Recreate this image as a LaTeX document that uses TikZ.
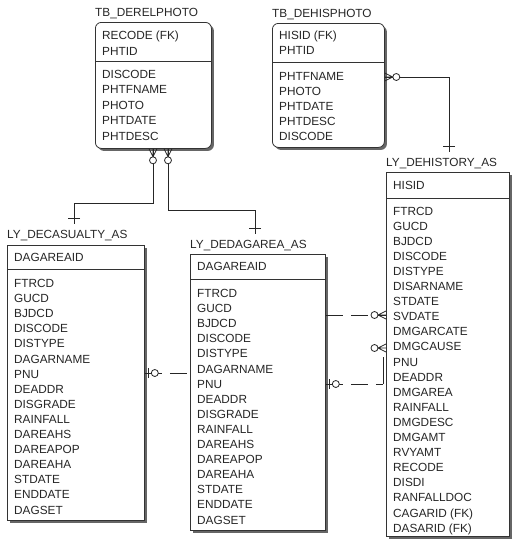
\documentclass[tikz,border=0pt]{standalone}
\usepackage{fontspec}
\setmainfont{Liberation Sans}
\usetikzlibrary{positioning,shadows}

\tikzset{
	entity/.style={draw=black!80, line width=0.8pt, fill=white, anchor=north west, inner sep=0pt,
		drop shadow={shadow xshift=2.5pt, shadow yshift=-2.5pt, fill=black!60, opacity=1}},
	dep/.style={entity, rounded corners=6pt},
	ttl/.style={font=\fontsize{11.8}{14}\selectfont, text=black!85, inner xsep=0pt, inner ysep=6pt},
	fld/.style={font=\fontsize{11.8}{14}\selectfont, text=black!85, anchor=base west, inner sep=0pt},
	divl/.style={draw=black!80, line width=0.8pt},
	rel/.style={draw=black!85, line width=0.8pt},
	reldash/.style={rel, dash pattern=on 17pt off 8pt},
	zmany/.pic={\draw[rel] (0,-4) -- (8,0) -- (0,4) (0,0) -- (8,0);
		\draw[rel, fill=white] (11.5,0) circle (3.5pt);},
	zone/.pic={\draw[rel] (4,-5) -- (4,5);
		\draw[rel, fill=white] (10,0) circle (3.5pt);},
	onebar/.pic={\draw[rel] (-5,-6) -- (-5,6);}
}

\begin{document}
\begin{tikzpicture}[x=1pt, y=-1pt]
	\useasboundingbox (0,0) rectangle (512,544);

	% tables
	\node[dep, minimum width=116pt, minimum height=126pt] (derel) at (95,22) {};
	\node[dep, minimum width=112pt, minimum height=124pt] (dehis) at (272,23) {};
	\node[entity, minimum width=123pt, minimum height=364pt] (his) at (386,172) {};
	\node[entity, minimum width=137pt, minimum height=275pt] (cas) at (7,245) {};
	\node[entity, minimum width=135pt, minimum height=276pt] (dag) at (190,254) {};

	\node[ttl, above right=6pt and 0pt of derel.north west, anchor=base west] (derelT) {TB\_DERELPHOTO};
	\node[ttl, above right=6pt and 0pt of dehis.north west, anchor=base west] (dehisT) {TB\_DEHISPHOTO};
	\node[ttl, above right=6pt and 0pt of his.north west, anchor=base west] (hisT) {LY\_DEHISTORY\_AS};
	\node[ttl, above right=7pt and 0pt of cas.north west, anchor=base west] (casT) {LY\_DECASUALTY\_AS};
	\node[ttl, above right=6pt and 0pt of dag.north west, anchor=base west] (dagT) {LY\_DEDAGAREA\_AS};

	\draw[divl] ([yshift=-39pt]derel.north west) -- ([yshift=-39pt]derel.north east);
	\draw[divl] ([yshift=-39pt]dehis.north west) -- ([yshift=-39pt]dehis.north east);
	\draw[divl] ([yshift=-26pt]his.north west) -- ([yshift=-26pt]his.north east);
	\draw[divl] ([yshift=-24pt]cas.north west) -- ([yshift=-24pt]cas.north east);
	\draw[divl] ([yshift=-25pt]dag.north west) -- ([yshift=-25pt]dag.north east);

	% keys
	\foreach \k [count=\i from 0] in {{RECODE (FK)},PHTID}
		\node[fld] (derelK\i) at (102,{39+16*\i}) {\k};
	\foreach \k [count=\i from 0] in {{HISID (FK)},PHTID}
		\node[fld] (dehisK\i) at (279,{39+15.5*\i}) {\k};
	\node[fld] (hisK) at (393,189) {HISID};
	\node[fld] (casK) at (14,261) {DAGAREAID};
	\node[fld] (dagK) at (197,270) {DAGAREAID};

	% attributes
	\foreach \a [count=\i from 0] in {DISCODE,PHTFNAME,PHOTO,PHTDATE,PHTDESC}
		\node[fld] (derelA\i) at (102,{78+15.5*\i}) {\a};
	\foreach \a [count=\i from 0] in {PHTFNAME,PHOTO,PHTDATE,PHTDESC,DISCODE}
		\node[fld] (dehisA\i) at (279,{80+15*\i}) {\a};
	\foreach \a [count=\i from 0] in {FTRCD,GUCD,BJDCD,DISCODE,DISTYPE,DISARNAME,STDATE,SVDATE,
			DMGARCATE,DMGCAUSE,PNU,DEADDR,DMGAREA,RAINFALL,DMGDESC,DMGAMT,RVYAMT,RECODE,
			DISDI,RANFALLDOC,{CAGARID (FK)},{DASARID (FK)}}
		\node[fld] (hisA\i) at (393,{215+15.1*\i}) {\a};
	\foreach \a [count=\i from 0] in {FTRCD,GUCD,BJDCD,DISCODE,DISTYPE,DAGARNAME,PNU,DEADDR,
			DISGRADE,RAINFALL,DAREAHS,DAREAPOP,DAREAHA,STDATE,ENDDATE,DAGSET} {
		\node[fld] (casA\i) at (14,{287.5+15.1*\i}) {\a};
		\node[fld] (dagA\i) at (197,{297.5+15.1*\i}) {\a};
	}

	% relationships
	\coordinate (k1) at (153,203);
	\coordinate (k2) at (74,203);
	\coordinate (k3) at (168,210);
	\coordinate (k4) at (255,210);
	\coordinate (k5) at (449,77);
	\coordinate (k6) at (383,384);
	\coordinate (h1) at (0,373);
	\coordinate (h2) at (0,315);
	\coordinate (h3) at (0,348);

	\draw[rel] (derel.south -| k1) -- (k1) -- (k2) -- (casT.north -| k2);
	\draw[rel] (derel.south -| k3) -- (k3) -- (k4) -- (dagT.north -| k4);
	\draw[rel] (dehis.east |- k5) -- (k5) -- (hisT.north -| k5);
	\draw[reldash] (cas.east |- h1) -- (dag.west |- h1);
	\draw[reldash] (dag.east |- h2) -- (his.west |- h2);
	\draw[reldash] (dag.east |- k6) -- (k6);
	\draw[rel] (k6) -- ++(0,-27);

	\pic[rotate=-90] at (derel.south -| k1) {zmany};
	\pic[rotate=-90] at (derel.south -| k3) {zmany};
	\pic at (dehis.east |- k5) {zmany};
	\pic[rotate=180] at (his.west |- h2) {zmany};
	\pic[rotate=180] at (his.west |- h3) {zmany};
	\pic at (cas.east |- h1) {zone};
	\pic at (dag.east |- k6) {zone};
	\pic[rotate=-90] at (casT.north -| k2) {onebar};
	\pic[rotate=-90] at (dagT.north -| k4) {onebar};
	\pic[rotate=-90] at (hisT.north -| k5) {onebar};
\end{tikzpicture}
\end{document}
